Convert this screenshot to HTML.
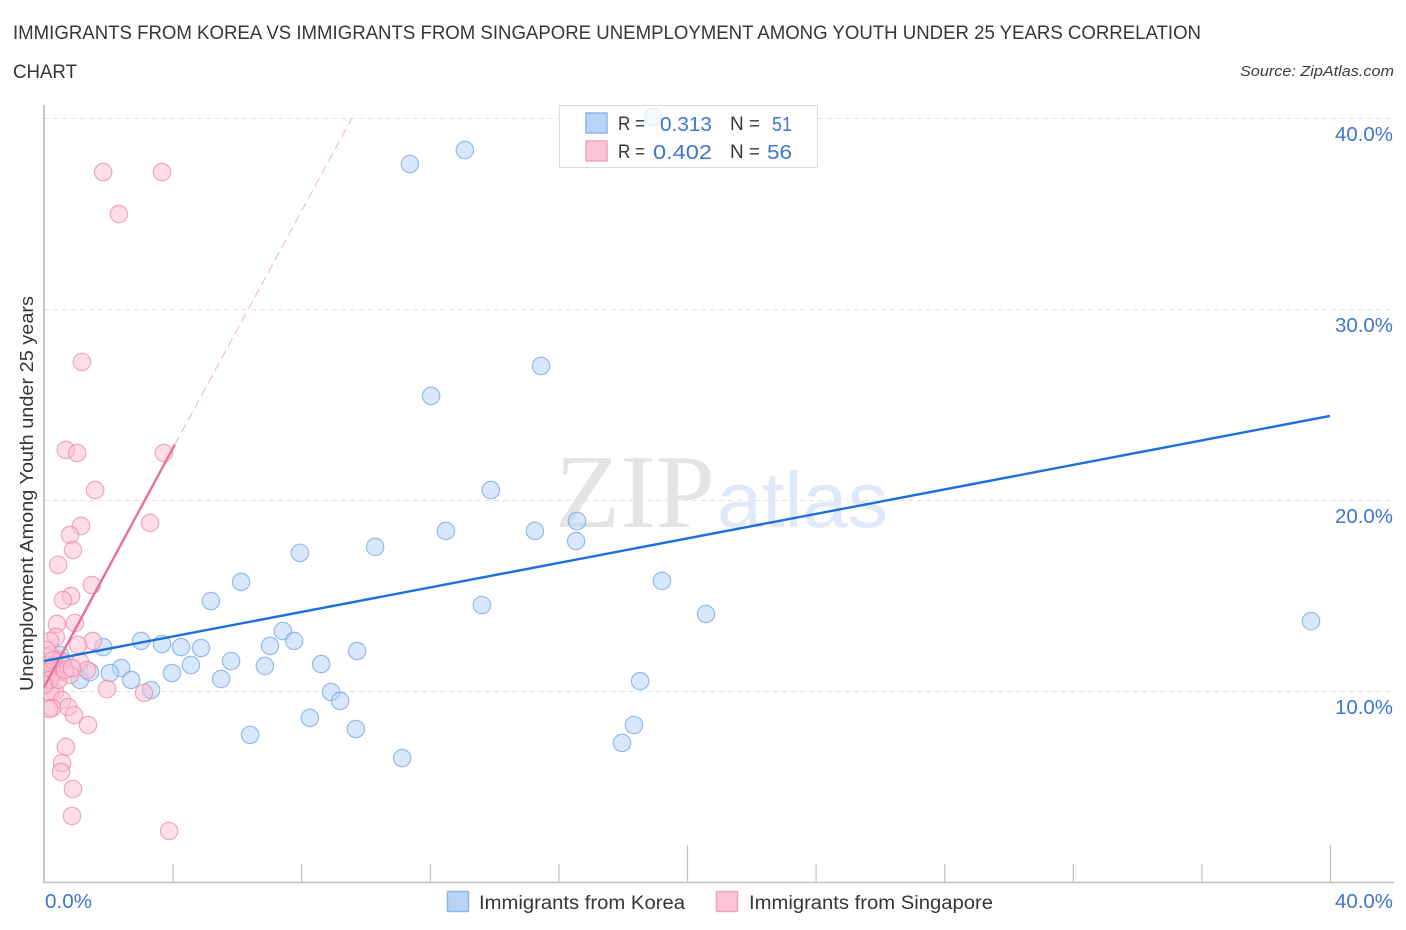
<!DOCTYPE html>
<html lang="en">
<head>
<meta charset="utf-8">
<title>Immigrants from Korea vs Immigrants from Singapore Unemployment Among Youth Under 25 Years Correlation Chart</title>
<style>
html,body{margin:0;padding:0;background:#fff;}
svg{display:block;font-family:"Liberation Sans",sans-serif;}
</style>
</head>
<body>
<svg id="chart" xmlns="http://www.w3.org/2000/svg" width="1406" height="930" viewBox="0 0 1406 930">
  <defs>
    <clipPath id="plot-clip"><rect x="44.5" y="100" width="1350" height="782"/></clipPath>
  </defs>
  <text x="13" y="39" font-size="19" fill="#33373b" textLength="1188" lengthAdjust="spacingAndGlyphs">IMMIGRANTS FROM KOREA VS IMMIGRANTS FROM SINGAPORE UNEMPLOYMENT AMONG YOUTH UNDER 25 YEARS CORRELATION</text>
  <text x="13" y="78" font-size="19" fill="#33373b" textLength="64" lengthAdjust="spacingAndGlyphs">CHART</text>
  <text x="1394" y="76" font-size="15" font-style="italic" fill="#3a3e42" text-anchor="end" textLength="154" lengthAdjust="spacingAndGlyphs">Source: ZipAtlas.com</text>

  <text x="555" y="527" style="font-family:'Liberation Serif',serif" font-size="105" fill="#e4e4e4" textLength="160" lengthAdjust="spacingAndGlyphs">ZIP</text>
  <text x="717" y="527" style="font-family:'Liberation Sans',sans-serif" font-size="79" fill="#dfe9f9" textLength="171" lengthAdjust="spacingAndGlyphs">atlas</text>

  <g id="grid"></g>
  <g id="axes"></g>
  <g id="points" clip-path="url(#plot-clip)"></g>
  <g id="trends"></g>
  <g id="labels"></g>

  <text transform="translate(33,691) rotate(-90)" font-size="18.5" fill="#33373b" textLength="395" lengthAdjust="spacingAndGlyphs">Unemployment Among Youth under 25 years</text>

  <g>
    <rect x="559.5" y="105.5" width="258" height="62" fill="#fff" fill-opacity="0.72" stroke="#dcdcdc" stroke-width="1"/>
    <rect x="586" y="113" width="21" height="20" fill="#b9d3f7" stroke="#8db5ea" stroke-width="1.5"/>
    <text x="618" y="130" font-size="19" fill="#33373b" textLength="27" lengthAdjust="spacingAndGlyphs">R =</text>
    <text x="712" y="131" font-size="20" fill="#3f76d0" text-anchor="end" textLength="52" lengthAdjust="spacingAndGlyphs">0.313</text>
    <text x="730" y="130" font-size="19" fill="#33373b" textLength="30" lengthAdjust="spacingAndGlyphs">N =</text>
    <text x="792" y="131" font-size="20" fill="#3f76d0" text-anchor="end" textLength="20" lengthAdjust="spacingAndGlyphs">51</text>
    <rect x="586" y="141" width="21" height="20" fill="#fcc4d6" stroke="#f0a3bd" stroke-width="1.5"/>
    <text x="618" y="158" font-size="19" fill="#33373b" textLength="27" lengthAdjust="spacingAndGlyphs">R =</text>
    <text x="712" y="159" font-size="20" fill="#3f76d0" text-anchor="end" textLength="59" lengthAdjust="spacingAndGlyphs">0.402</text>
    <text x="730" y="158" font-size="19" fill="#33373b" textLength="30" lengthAdjust="spacingAndGlyphs">N =</text>
    <text x="792" y="159" font-size="20" fill="#3f76d0" text-anchor="end" textLength="25" lengthAdjust="spacingAndGlyphs">56</text>
  </g>

  <g>
    <rect x="447.5" y="891.5" width="21" height="20" rx="1" fill="#b9d3f7" stroke="#8db5ea" stroke-width="1.5"/>
    <text x="479" y="909" font-size="19" fill="#33373b" textLength="206" lengthAdjust="spacingAndGlyphs">Immigrants from Korea</text>
    <rect x="716.5" y="891.5" width="21" height="20" rx="1" fill="#fcc4d6" stroke="#f0a3bd" stroke-width="1.5"/>
    <text x="749" y="909" font-size="19" fill="#33373b" textLength="244" lengthAdjust="spacingAndGlyphs">Immigrants from Singapore</text>
  </g>
</svg>
<script>
const koreaX = [18.94,13.09,11.38,15.46,12.04,13.90,12.50,15.27,16.58,16.55,10.30,7.96,6.13,5.19,13.62,19.22,20.59,39.41,1.84,3.02,3.67,4.26,4.88,7.43,7.03,7.78,9.74,8.62,5.82,4.57,3.98,5.51,6.87,2.40,2.05,2.71,3.33,1.12,1.43,8.93,9.21,8.27,9.70,11.14,6.41,18.54,18.35,17.98,0.50,0.56,0.19];
const koreaY = [40.05,38.32,37.59,27.02,25.45,20.52,18.38,18.38,18.90,17.85,17.54,17.23,15.71,14.71,14.50,15.76,14.03,13.66,12.30,12.62,12.46,12.30,12.25,13.14,12.36,12.62,12.09,11.41,11.57,11.36,10.94,10.63,11.31,11.20,10.94,10.58,10.05,10.58,10.99,9.95,9.48,8.59,8.01,6.49,7.70,10.52,8.22,7.28,11.88,11.52,11.20];
const singaporeX = [1.84,3.67,2.33,1.18,0.68,1.03,3.73,1.59,1.15,3.30,0.81,0.90,0.44,1.49,0.84,0.59,0.96,0.40,0.37,0.19,1.52,1.06,0.19,0.50,1.12,0.09,1.34,0.34,0.03,0.50,0.25,0.81,1.96,3.11,0.34,0.19,0.56,0.75,0.93,0.25,0.16,1.37,0.68,0.56,0.53,0.90,0.87,3.89,0.09,0.19,0.09,0.44,0.65,0.28,0.00,0.87];
const singaporeY = [37.17,37.17,34.97,27.23,22.62,22.46,22.46,20.52,18.64,18.80,18.17,17.38,16.60,15.55,14.97,14.76,13.56,13.51,12.83,12.62,12.62,12.41,11.88,11.62,11.52,11.36,11.10,10.99,10.68,10.99,11.20,10.84,10.10,9.90,9.95,9.95,9.53,9.16,8.74,9.11,9.06,8.22,7.07,6.23,5.76,4.87,3.46,2.67,10.99,10.58,12.15,10.58,11.10,11.62,10.31,11.20];
const koreaTrendX = [0,40];
const koreaTrendY = [11.57,24.40];
const singaporeTrendX = [0,4.07];
const singaporeTrendY = [10.20,22.90];
const singaporeDashX = [4.07,9.58];
const singaporeDashY = [22.90,40.00];
const yTicks = [10,20,30,40];
const yTickLabels = ['10.0%','20.0%','30.0%','40.0%'];
const xTicks = [0,4,8,12,16,20,24,28,32,36,40];
const xMajorTicks = [20,40];
const xEdgeValues = [0,40];
const xEdgeLabels = ['0.0%','40.0%'];

const NS = 'http://www.w3.org/2000/svg';
function sx(v){ return 44 + v * (1330 - 44) / 40; }
function sy(v){ return 882 - v * (882 - 118) / 40; }
function make(tag, attrs, parent){
  const el = document.createElementNS(NS, tag);
  for (const k in attrs) el.setAttribute(k, attrs[k]);
  parent.appendChild(el);
  return el;
}
const gridG = document.getElementById('grid');
const axesG = document.getElementById('axes');
const pointsG = document.getElementById('points');
const trendsG = document.getElementById('trends');
const labelsG = document.getElementById('labels');

yTicks.forEach(function(t, i){
  const gl = make('line', {x1:44, x2:1394, y1:sy(t) + 0.5, y2:sy(t) + 0.5, stroke:'#e2e2e2', 'stroke-width':1, 'stroke-dasharray':'5 4'}, gridG);
  
  
  const lb = make('text', {x:1393, y:sy(t) + 23, 'font-size':20, fill:'#3f76d0', 'text-anchor':'end', textLength:58, lengthAdjust:'spacingAndGlyphs'}, labelsG);
  lb.textContent = yTickLabels[i];
  
  
});

const yAxis = make('line', {x1:44, x2:44, y1:105, y2:883, stroke:'#b5b5b5', 'stroke-width':1.5}, axesG);


const xAxis = make('line', {x1:44, x2:1394, y1:882.5, y2:882.5, stroke:'#c2c2c2', 'stroke-width':1.5}, axesG);


xTicks.forEach(function(t){
  if (t === 0) return;
  const top = xMajorTicks.indexOf(t) >= 0 ? 845 : 864;
  const tk = make('line', {x1:sx(t) + 0.5, x2:sx(t) + 0.5, y1:top, y2:882, stroke:'#c2c2c2', 'stroke-width':1.2}, axesG);
  
  
});
xEdgeValues.forEach(function(v, i){
  const attrs = i === 0
    ? {x:sx(v) + 1, y:908, 'font-size':20, fill:'#3f76d0', textLength:47, lengthAdjust:'spacingAndGlyphs'}
    : {x:1393, y:908, 'font-size':20, fill:'#3f76d0', 'text-anchor':'end', textLength:58, lengthAdjust:'spacingAndGlyphs'};
  const lb = make('text', attrs, labelsG);
  lb.textContent = xEdgeLabels[i];
  
  
});

koreaX.forEach(function(v, i){
  const c = make('circle', {cx:sx(v), cy:sy(koreaY[i]), r:8.7, fill:'#b9d3f7', 'fill-opacity':0.55, stroke:'#6ea3e6', 'stroke-opacity':0.7, 'stroke-width':1.2}, pointsG);
  
  
});
singaporeX.forEach(function(v, i){
  const c = make('circle', {cx:sx(v), cy:sy(singaporeY[i]), r:8.7, fill:'#fbbdd1', 'fill-opacity':0.5, stroke:'#ec86a8', 'stroke-opacity':0.7, 'stroke-width':1.2}, pointsG);
  
  
});

const dashLine = make('line', {x1:sx(singaporeDashX[0]), y1:sy(singaporeDashY[0]), x2:sx(singaporeDashX[1]), y2:sy(singaporeDashY[1]), stroke:'#f0b3c7', 'stroke-width':1, 'stroke-dasharray':'9 5'}, trendsG);


const sgLine = make('line', {x1:sx(singaporeTrendX[0]), y1:sy(singaporeTrendY[0]), x2:sx(singaporeTrendX[1]), y2:sy(singaporeTrendY[1]), stroke:'#e8709a', 'stroke-width':2.4}, trendsG);


const krLine = make('line', {x1:sx(koreaTrendX[0]), y1:sy(koreaTrendY[0]), x2:sx(koreaTrendX[1]), y2:sy(koreaTrendY[1]), stroke:'#1f6fd8', 'stroke-width':2.4}, trendsG);


</script>
</body>
</html>
